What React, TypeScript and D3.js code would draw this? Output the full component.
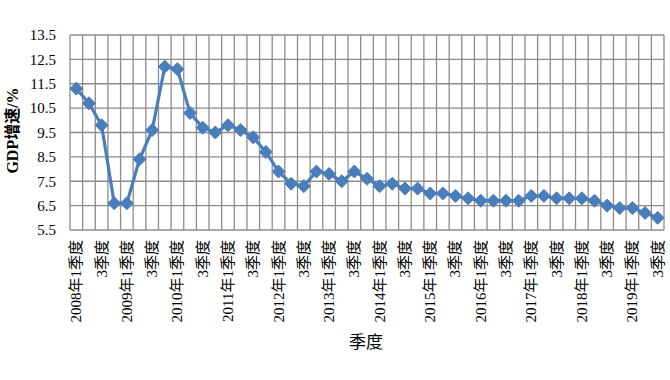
import React from "react";
import * as d3 from "d3";

const quarters: string[] = [];
for (let y = 2008; y <= 2019; y++) {
  for (let q = 1; q <= 4; q++) {
    if (y === 2019 && q === 4) break;
    quarters.push(`${y}年${q}季度`);
  }
}
const growth: number[] = [
  11.3, 10.7, 9.8, 6.6, 6.6, 8.4, 9.6, 12.2, 12.1, 10.3, 9.7, 9.5,
  9.8, 9.6, 9.3, 8.7, 7.9, 7.4, 7.3, 7.9, 7.8, 7.5, 7.9, 7.6,
  7.3, 7.4, 7.2, 7.2, 7.0, 7.0, 6.9, 6.8, 6.7, 6.7, 6.7, 6.7,
  6.9, 6.9, 6.8, 6.8, 6.8, 6.7, 6.5, 6.4, 6.4, 6.2, 6.0,
];
const yTicks: number[] = [5.5, 6.5, 7.5, 8.5, 9.5, 10.5, 11.5, 12.5, 13.5];
const tickLabel = (q: string, i: number) => (i % 4 === 0 ? q : q.slice(5));

const W = 670, H = 380;
const L = 70, R = 664, T = 35, B = 230;

export default function App() {
  const x = d3.scaleBand<string>().domain(quarters).range([L, R]).padding(0);
  const y = d3.scaleLinear().domain([5.5, 13.5]).range([B, T]);
  const cx = (q: string) => (x(q) as number) + x.bandwidth() / 2;
  const line = d3
    .line<number>()
    .x((_, i) => cx(quarters[i]))
    .y((d) => y(d));
  const serif = "'Liberation Serif', 'Times New Roman', 'Noto Sans CJK SC', serif";
  const grid = "#8c8c8c";
  const blue = "#4a7ebb";
  const ds = 6.5;
  return (
    <svg width={W} height={H} style={{ position: "absolute", left: 0, top: 0, background: "#fff" }}>
      <rect x={0} y={0} width={W} height={H} fill="#fff" />
      {yTicks.map((t) => (
        <line key={"h" + t} x1={L} x2={R} y1={y(t)} y2={y(t)} stroke={grid} strokeWidth={1.3} />
      ))}
      {quarters.map((q) => (
        <line key={"v" + q} x1={x(q) as number} x2={x(q) as number} y1={T} y2={B} stroke={grid} strokeWidth={1.3} />
      ))}
      <line x1={R} x2={R} y1={T} y2={B} stroke={grid} strokeWidth={1.3} />
      {yTicks.map((t) => (
        <text key={"yl" + t} x={56} y={y(t)} dy="0.35em" textAnchor="end" fontFamily={serif} fontSize={15} fill="#000">
          {t.toFixed(1)}
        </text>
      ))}
      <text
        transform={`translate(18,${(T + B) / 2 - 2}) rotate(-90)`}
        textAnchor="middle"
        fontFamily={serif}
        fontSize={16}
        fontWeight="bold"
        fill="#000"
      >
        GDP增速/%
      </text>
      {quarters.map((q, i) =>
        i % 2 === 0 ? (
          <text
            key={"xl" + q}
            transform={`translate(${cx(q) + 5},${B + 10}) rotate(-90)`}
            textAnchor="end"
            fontFamily={serif}
            fontSize={15}
            fill="#000"
          >
            {tickLabel(q, i)}
          </text>
        ) : null
      )}
      <text x={366} y={348} textAnchor="middle" fontFamily={serif} fontSize={17} fill="#000">
        季度
      </text>
      <path d={line(growth) || ""} fill="none" stroke={blue} strokeWidth={3.2} strokeLinejoin="round" />
      {growth.map((v, i) => {
        const px = cx(quarters[i]);
        const py = y(v);
        return (
          <path
            key={"m" + i}
            d={`M${px},${py - ds}L${px + ds},${py}L${px},${py + ds}L${px - ds},${py}Z`}
            fill={blue}
            stroke={blue}
            strokeWidth={1}
          />
        );
      })}
    </svg>
  );
}
